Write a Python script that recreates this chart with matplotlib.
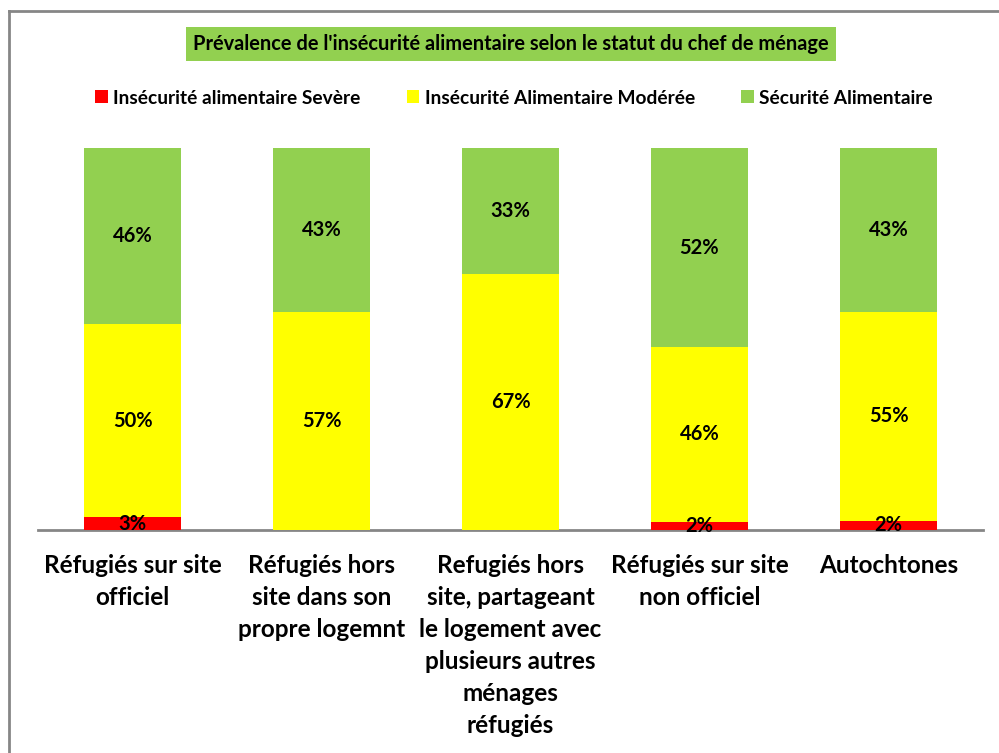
#!/usr/bin/env python3

import numpy as np
import matplotlib.pyplot as plt
from matplotlib.patches import Patch
from matplotlib.lines import Line2D

plt.rcParams['font.family'] = ['Lato', 'DejaVu Sans']
plt.rcParams['font.weight'] = 'bold'

# categories and stacked shares (%)
categories = [
    "Réfugiés sur site\nofficiel",
    "Réfugiés hors\nsite dans son\npropre logemnt",
    "Refugiés hors\nsite, partageant\nle logement avec\nplusieurs autres\nménages\nréfugiés",
    "Réfugiés sur site\nnon officiel",
    "Autochtones",
]
severe = [3.4, 0, 0, 2.1, 2.4]
moderate = [50.4, 57, 67, 45.8, 54.7]
secure = [46.2, 43, 33, 52.1, 42.9]

series_names = ["Insécurité alimentaire Sevère",
                "Insécurité Alimentaire Modérée",
                "Sécurité Alimentaire"]
colors = ["#FF0000", "#FFFF00", "#92D050"]

fig = plt.figure(figsize=(9.99, 7.53), dpi=100)
W, H = 999, 753
ax = fig.add_axes([38 / W, 1 - 530 / H, (983 - 38) / W, (530 - 148) / H])

x = np.arange(len(categories))
width = 0.508
bottom = np.zeros(len(categories))
for vals, col in zip([severe, moderate, secure], colors):
    vals = np.array(vals, dtype=float)
    ax.bar(x, vals, width, bottom=bottom, color=col, linewidth=0)
    for xi, b, v in zip(x, bottom, vals):
        if v > 0:
            ax.text(xi, b + v / 2, f"{v:.0f}%", ha="center", va="center",
                    fontsize=14.5, fontweight="bold", color="black")
    bottom += vals

ax.set_xlim(-0.5, len(categories) - 0.5)
ax.set_ylim(0, 100)
ax.set_yticks([])
for s in ["left", "right", "top"]:
    ax.spines[s].set_visible(False)
ax.spines["bottom"].set_color("#868686")
ax.spines["bottom"].set_linewidth(2)
ax.spines["bottom"].set_zorder(0)
ax.set_xticks(x)
ax.set_xticklabels(categories, fontsize=17.5, fontweight="bold", linespacing=1.48)
ax.tick_params(axis="x", length=0, pad=17)
for t in ax.get_xticklabels():
    t.set_verticalalignment("top")
    t.set_multialignment("center")

# title in a green box
fig.text(511 / W, 1 - 44 / H,
         "Prévalence de l'insécurité alimentaire selon le statut du chef de ménage",
         ha="center", va="center", fontsize=14.4, fontweight="bold",
         bbox=dict(boxstyle="square,pad=0.35", facecolor="#92D050", edgecolor="none"))

# legend
handles = [Patch(facecolor=c, edgecolor="none") for c in colors]
fig.legend(handles, series_names, loc="center", ncol=3, frameon=False,
           bbox_to_anchor=(514 / W, 1 - 98 / H),
           handlelength=0.65, handleheight=0.65, handletextpad=0.3,
           columnspacing=2.4, prop={"weight": "bold", "size": 13.8})

# chart frame (top and left edges)
fig.add_artist(Line2D([9 / W, 1], [1 - 11 / H, 1 - 11 / H], color="#868686", lw=2))
fig.add_artist(Line2D([9 / W, 9 / W], [0, 1 - 11 / H], color="#868686", lw=2))

fig.savefig("out.png", dpi=100)
